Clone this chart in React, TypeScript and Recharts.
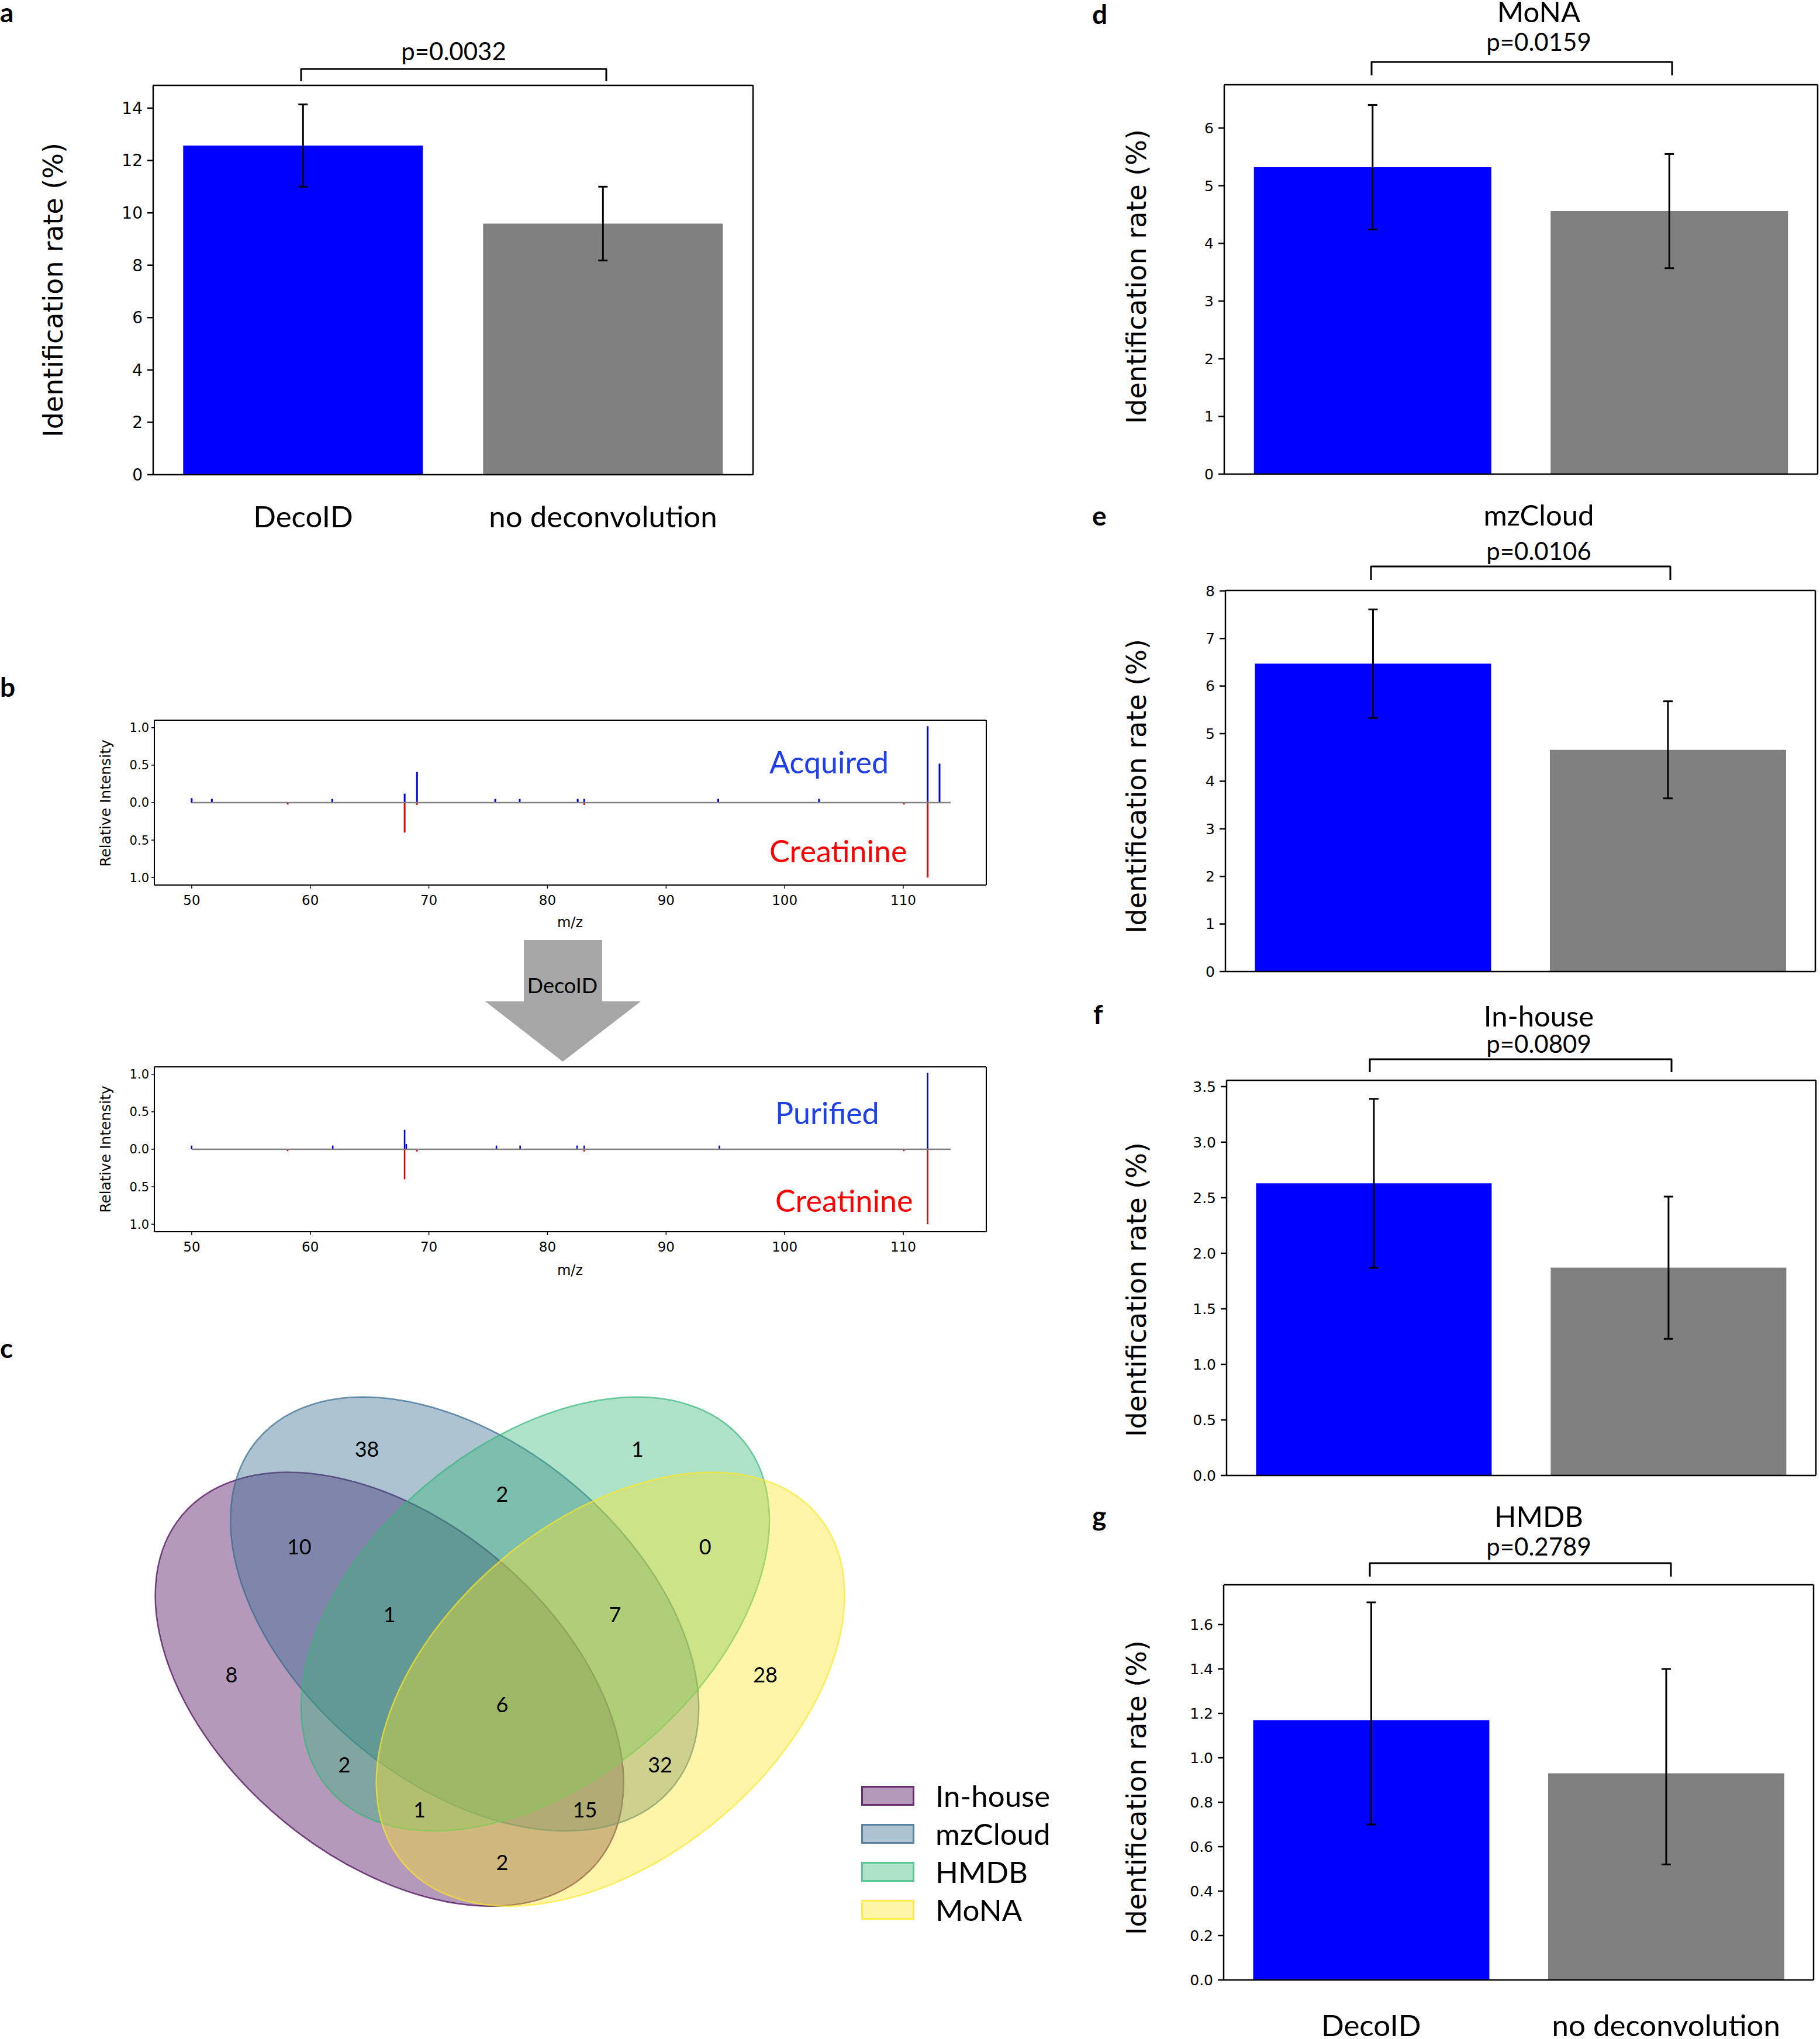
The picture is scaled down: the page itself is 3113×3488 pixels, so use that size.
import React from 'react';
import { BarChart, Bar, Cell, XAxis, YAxis, ErrorBar, ReferenceLine, ScatterChart, Scatter, Legend } from 'recharts';

const PAGE_W = 3113;
const PAGE_H = 3488;
const SANS = 'Lato, "Open Sans", sans-serif';
const DEJAVU = '"DejaVu Sans", sans-serif';

// ---- bar panels (a, d, e, f, g) ----
const methods = ['DecoID', 'no deconvolution'];
const barColors = ['#0000ff', '#808080'];

const overallRate = [12.57, 9.59];
const overallErr = [1.57, 1.41];
const monaRate = [5.32, 4.56];
const monaErr = [1.08, 0.99];
const mzCloudRate = [6.47, 4.66];
const mzCloudErr = [1.14, 1.02];
const inHouseRate = [2.63, 1.87];
const inHouseErr = [0.76, 0.64];
const hmdbRate = [1.17, 0.93];
const hmdbErr: [number, number][] = [[0.47, 0.53], [0.41, 0.47]];

const overallTicks = [0, 2, 4, 6, 8, 10, 12, 14];
const monaTicks = [0, 1, 2, 3, 4, 5, 6];
const mzCloudTicks = [0, 1, 2, 3, 4, 5, 6, 7, 8];
const inHouseTicks = [0, 0.5, 1, 1.5, 2, 2.5, 3, 3.5];
const hmdbTicks = [0, 0.2, 0.4, 0.6, 0.8, 1, 1.2, 1.4, 1.6];

// ---- spectra (b) ----
const acquiredMz = [50.0, 51.7, 61.85, 67.96, 69.0, 75.6, 77.66, 82.55, 83.1, 94.4, 102.9, 112.06, 113.06];
const acquiredInt = [0.06, 0.05, 0.05, 0.12, 0.41, 0.05, 0.05, 0.05, 0.05, 0.05, 0.05, 1.02, 0.52];
const purifiedMz = [50.0, 61.9, 67.96, 68.1, 75.7, 77.7, 82.5, 83.1, 94.5, 112.06];
const purifiedInt = [0.05, 0.05, 0.26, 0.07, 0.05, 0.05, 0.05, 0.05, 0.05, 1.02];
const creatinineMz = [58.1, 67.96, 69.0, 83.1, 110.06, 112.06];
const creatinineInt = [0.025, 0.4, 0.03, 0.03, 0.025, 1.0];
const mzTicks = [50, 60, 70, 80, 90, 100, 110];
const intensityTicks = [-1, -0.5, 0, 0.5, 1];

// ---- venn (c) ----
const setNames = ['In-house', 'mzCloud', 'HMDB', 'MoNA'];
const setColors = ['#440154', '#31688e', '#35b779', '#fde725'];
const ellipseCx = [0.35, 0.45, 0.544, 0.644];
const ellipseCy = [0.4, 0.5, 0.5, 0.4];
const ellipseAngle = [140, 140, 40, 40];
const regionCounts = [8, 38, 1, 28, 10, 2, 0, 1, 7, 6, 2, 32, 1, 15, 2];
const regionX = [0.14, 0.32, 0.68, 0.85, 0.23, 0.5, 0.77, 0.35, 0.65, 0.5, 0.29, 0.71, 0.39, 0.61, 0.5];
const regionY = [0.42, 0.72, 0.72, 0.42, 0.59, 0.66, 0.59, 0.5, 0.5, 0.38, 0.3, 0.3, 0.24, 0.24, 0.17];

const ELLIPSE_W = 0.72;
const ELLIPSE_H = 0.45;
const VENN_PX = 1286;

const axisStyle = { stroke: '#000', strokeWidth: 2.5 };
const thinAxis = { stroke: '#000', strokeWidth: 2 };

type Box = { l: number; r: number; t: number; b: number };

function RatePanel(props: {
  rate: number[];
  err: (number | [number, number])[];
  box: Box;
  yMax: number;
  ticks: number[];
  decimals: number;
  tickFont: number;
  yW: number;
  showLabels?: boolean;
  labelGap?: number;
}) {
  const { rate, err, box, yMax, ticks, decimals, tickFont, yW, showLabels, labelGap } = props;
  const data = methods.map((m, i) => ({ name: m, rate: rate[i], err: err[i] }));
  const mt = 20;
  const xH = showLabels ? 130 : 24;
  const width = yW + (box.r - box.l) + 2;
  const height = mt + 1 + (box.b - box.t) + xH;
  return (
    <div style={{ position: 'absolute', left: box.l - yW, top: box.t - mt - 1 }}>
      <BarChart width={width} height={height} data={data} margin={{ top: mt, right: 1, left: 0, bottom: 0 }} barCategoryGap="10%">
        <XAxis
          dataKey="name"
          interval={0}
          height={xH}
          tickLine={false}
          tickSize={0}
          tickMargin={labelGap ?? 0}
          axisLine={axisStyle}
          tick={showLabels ? { fontSize: 51, fill: '#000', fontFamily: SANS } : false}
        />
        <XAxis xAxisId="top" orientation="top" dataKey="name" height={1} tick={false} tickLine={false} axisLine={axisStyle} />
        <YAxis
          domain={[0, yMax]}
          ticks={ticks}
          interval={0}
          width={yW}
          tickSize={10}
          tickMargin={8}
          tickLine={axisStyle}
          axisLine={axisStyle}
          tickFormatter={(v: number) => v.toFixed(decimals)}
          tick={{ fontSize: tickFont, fill: '#000', fontFamily: DEJAVU }}
        />
        <YAxis yAxisId="right" orientation="right" width={1} tick={false} tickLine={false} axisLine={axisStyle} />
        <Bar dataKey="rate" isAnimationActive={false}>
          {data.map((d, i) => (
            <Cell key={d.name} fill={barColors[i]} />
          ))}
          <ErrorBar dataKey="err" width={8} strokeWidth={3} stroke="#000" direction="y" />
        </Bar>
      </BarChart>
    </div>
  );
}

const peakTable = (mz: number[], up: number[], refMz: number[], down: number[]) => {
  const keys = Array.from(new Set([...mz, ...refMz])).sort((a, b) => a - b);
  return keys.map((m) => {
    const i = mz.indexOf(m);
    const j = refMz.indexOf(m);
    return { mz: m, sample: i >= 0 ? up[i] : 0, library: j >= 0 ? -down[j] : 0 };
  });
};

function SpectrumPanel({ box, mz, intensity }: { box: Box; mz: number[]; intensity: number[] }) {
  const rows = peakTable(mz, intensity, creatinineMz, creatinineInt);
  const yW = 60;
  const xH = 50;
  const width = yW + (box.r - box.l) + 2;
  const height = 2 + (box.b - box.t) + xH;
  return (
    <div style={{ position: 'absolute', left: box.l - yW, top: box.t - 2 }}>
      <BarChart width={width} height={height} data={rows} stackOffset="sign" margin={{ top: 1, right: 1, left: 0, bottom: 0 }}>
        <XAxis
          type="number"
          dataKey="mz"
          domain={[46.85, 117.0]}
          allowDataOverflow
          ticks={mzTicks}
          interval={0}
          height={xH}
          tickSize={6}
          tickMargin={12}
          tickLine={{ stroke: '#000', strokeWidth: 1.5 }}
          axisLine={thinAxis}
          tick={{ fontSize: 23, fill: '#000', fontFamily: DEJAVU }}
        />
        <XAxis xAxisId="top" orientation="top" type="number" dataKey="mz" domain={[46.85, 117.0]} allowDataOverflow height={1} tick={false} tickLine={false} axisLine={thinAxis} />
        <YAxis
          domain={[-1.1, 1.1]}
          allowDataOverflow
          ticks={intensityTicks}
          interval={0}
          width={yW}
          tickSize={5}
          tickMargin={4}
          tickLine={{ stroke: '#000', strokeWidth: 1.5 }}
          axisLine={thinAxis}
          tickFormatter={(v: number) => Math.abs(v).toFixed(1)}
          tick={{ fontSize: 21, fill: '#000', fontFamily: DEJAVU }}
        />
        <YAxis yAxisId="right" orientation="right" width={1} tick={false} tickLine={false} axisLine={thinAxis} />
        <ReferenceLine segment={[{ x: 50, y: 0 }, { x: 114, y: 0 }]} stroke="#808080" strokeWidth={2.5} />
        <Bar dataKey="sample" stackId="s" fill="#0000dd" barSize={3} isAnimationActive={false} />
        <Bar dataKey="library" stackId="s" fill="#e00000" barSize={3} isAnimationActive={false} />
      </BarChart>
    </div>
  );
}

const EllipseShape = (p: any) => {
  const i = setNames.indexOf(p.payload.name);
  return (
    <ellipse
      cx={p.cx}
      cy={p.cy}
      rx={(ELLIPSE_W / 2) * VENN_PX}
      ry={(ELLIPSE_H / 2) * VENN_PX}
      transform={`rotate(${-p.payload.angle} ${p.cx} ${p.cy})`}
      fill={setColors[i]}
      fillOpacity={0.4}
      stroke={setColors[i]}
      strokeOpacity={0.7}
      strokeWidth={2.5}
    />
  );
};

const CountShape = (p: any) => (
  <text x={p.cx} y={p.cy} textAnchor="middle" dominantBaseline="central" fontSize={36} fontFamily={SANS} fill="#000">
    {p.payload.n}
  </text>
);

const hexA = (hex: string, a: number) => {
  const r = parseInt(hex.slice(1, 3), 16);
  const g = parseInt(hex.slice(3, 5), 16);
  const b = parseInt(hex.slice(5, 7), 16);
  return `rgba(${r},${g},${b},${a})`;
};

const VennLegend = () => (
  <div>
    {setNames.map((name, i) => (
      <div key={name} style={{ display: 'flex', alignItems: 'center', height: 65 }}>
        <div
          style={{
            width: 85,
            height: 28,
            background: hexA(setColors[i], 0.4),
            border: `3px solid ${hexA(setColors[i], 0.7)}`,
          }}
        />
        <span style={{ marginLeft: 36, fontSize: 51, fontFamily: SANS, lineHeight: '65px', color: '#000' }}>{name}</span>
      </div>
    ))}
  </div>
);

function VennPanel() {
  const ellipses = setNames.map((name, i) => ({ name, x: ellipseCx[i], y: ellipseCy[i], angle: ellipseAngle[i] }));
  const counts = regionCounts.map((n, i) => ({ n, x: regionX[i], y: regionY[i] }));
  const extra = 360;
  return (
    <div style={{ position: 'absolute', left: 216, top: 2118 }}>
      <ScatterChart width={VENN_PX + extra} height={VENN_PX} margin={{ top: 0, right: extra, left: 0, bottom: 0 }}>
        <XAxis type="number" dataKey="x" domain={[0, 1]} hide />
        <YAxis type="number" dataKey="y" domain={[0, 1]} hide />
        <Scatter data={ellipses} shape={EllipseShape} isAnimationActive={false} />
        <Scatter data={counts} shape={CountShape} isAnimationActive={false} />
        <Legend layout="vertical" align="center" verticalAlign="middle" wrapperStyle={{ left: 1257, top: 921, width: 360 }} content={() => <VennLegend />} />
      </ScatterChart>
    </div>
  );
}

const Bracket = ({ x1, x2, y1, y2 }: { x1: number; x2: number; y1: number; y2: number }) => (
  <path d={`M${x1},${y2} L${x1},${y1} L${x2},${y1} L${x2},${y2}`} fill="none" stroke="#000" strokeWidth={3} strokeLinejoin="round" />
);

const YLabel = ({ x, y, text, size }: { x: number; y: number; text: string; size: number }) => (
  <text x={x} y={y} transform={`rotate(-90 ${x} ${y})`} textAnchor="middle" fontSize={size} fontFamily={DEJAVU} fill="#000">
    {text}
  </text>
);

const T = ({ x, y, size, children, anchor = 'middle', color = '#000', bold = false, family = SANS }: any) => (
  <text x={x} y={y} fontSize={size} textAnchor={anchor} fill={color} fontWeight={bold ? 700 : 400} fontFamily={family}>
    {children}
  </text>
);

export default function App() {
  return (
    <div style={{ position: 'absolute', left: 0, top: 0, width: PAGE_W, height: PAGE_H, background: '#fff', overflow: 'hidden' }}>
      <RatePanel rate={overallRate} err={overallErr} box={{ l: 262, r: 1288, t: 146, b: 812 }} yMax={14.87} ticks={overallTicks} decimals={0} tickFont={28} yW={70} showLabels labelGap={54} />
      <RatePanel rate={monaRate} err={monaErr} box={{ l: 2094, r: 3109, t: 145, b: 811 }} yMax={6.75} ticks={monaTicks} decimals={0} tickFont={25} yW={90} />
      <RatePanel rate={mzCloudRate} err={mzCloudErr} box={{ l: 2096, r: 3105, t: 1010, b: 1662 }} yMax={8.01} ticks={mzCloudTicks} decimals={0} tickFont={25} yW={90} />
      <RatePanel rate={inHouseRate} err={inHouseErr} box={{ l: 2098, r: 3106, t: 1848, b: 2524 }} yMax={3.557} ticks={inHouseTicks} decimals={1} tickFont={25} yW={90} />
      <RatePanel rate={hmdbRate} err={hmdbErr} box={{ l: 2093, r: 3102, t: 2711, b: 3387 }} yMax={1.779} ticks={hmdbTicks} decimals={1} tickFont={25} yW={90} showLabels labelGap={60} />

      <SpectrumPanel box={{ l: 264, r: 1687, t: 1232, b: 1514 }} mz={acquiredMz} intensity={acquiredInt} />
      <SpectrumPanel box={{ l: 264, r: 1687, t: 1825, b: 2107 }} mz={purifiedMz} intensity={purifiedInt} />

      <VennPanel />

      <svg width={PAGE_W} height={PAGE_H} style={{ position: 'absolute', left: 0, top: 0, pointerEvents: 'none' }}>
        {/* panel letters */}
        <T x={0} y={38} size={46} anchor="start" bold>a</T>
        <T x={0} y={1192} size={46} anchor="start" bold>b</T>
        <T x={0} y={2323} size={46} anchor="start" bold>c</T>
        <T x={1868} y={41} size={46} anchor="start" bold>d</T>
        <T x={1868} y={899} size={46} anchor="start" bold>e</T>
        <T x={1870} y={1752} size={46} anchor="start" bold>f</T>
        <T x={1868} y={2610} size={46} anchor="start" bold>g</T>

        {/* panel a */}
        <YLabel x={107} y={496} text="Identification rate (%)" size={46} />
        <Bracket x1={515} x2={1037} y1={118} y2={139} />
        <T x={776} y={103} size={42}>p=0.0032</T>

        {/* right column */}
        <YLabel x={1960} y={473} text="Identification rate (%)" size={46} />
        <T x={2632} y={38} size={49}>MoNA</T>
        <T x={2632} y={87} size={42}>p=0.0159</T>
        <Bracket x1={2346} x2={2860} y1={106} y2={129} />

        <YLabel x={1960} y={1345} text="Identification rate (%)" size={46} />
        <T x={2632} y={899} size={49}>mzCloud</T>
        <T x={2632} y={958} size={42}>p=0.0106</T>
        <Bracket x1={2345} x2={2857} y1={969} y2={992} />

        <YLabel x={1960} y={2206} text="Identification rate (%)" size={46} />
        <T x={2632} y={1756} size={49}>In-house</T>
        <T x={2632} y={1801} size={42}>p=0.0809</T>
        <Bracket x1={2343} x2={2859} y1={1812} y2={1834} />

        <YLabel x={1960} y={3058} text="Identification rate (%)" size={46} />
        <T x={2632} y={2612} size={49}>HMDB</T>
        <T x={2632} y={2661} size={42}>p=0.2789</T>
        <Bracket x1={2343} x2={2858} y1={2674} y2={2697} />

        {/* panel b */}
        <YLabel x={189} y={1374} text="Relative Intensity" size={25} />
        <T x={975} y={1586} size={24} family={DEJAVU}>m/z</T>
        <T x={1316} y={1323} size={52} anchor="start" color="#1e40e6">Acquired</T>
        <T x={1316} y={1475} size={52} anchor="start" color="#ff0000">Creatinine</T>

        <polygon points="896,1608 1030,1608 1030,1713 1096,1713 962.6,1816 830,1713 896,1713" fill="#a6a6a6" />
        <T x={962} y={1699} size={36}>DecoID</T>

        <YLabel x={189} y={1966} text="Relative Intensity" size={25} />
        <T x={975} y={2181} size={24} family={DEJAVU}>m/z</T>
        <T x={1326} y={1923} size={52} anchor="start" color="#1e40e6">Purified</T>
        <T x={1326} y={2073} size={52} anchor="start" color="#ff0000">Creatinine</T>
      </svg>
    </div>
  );
}
